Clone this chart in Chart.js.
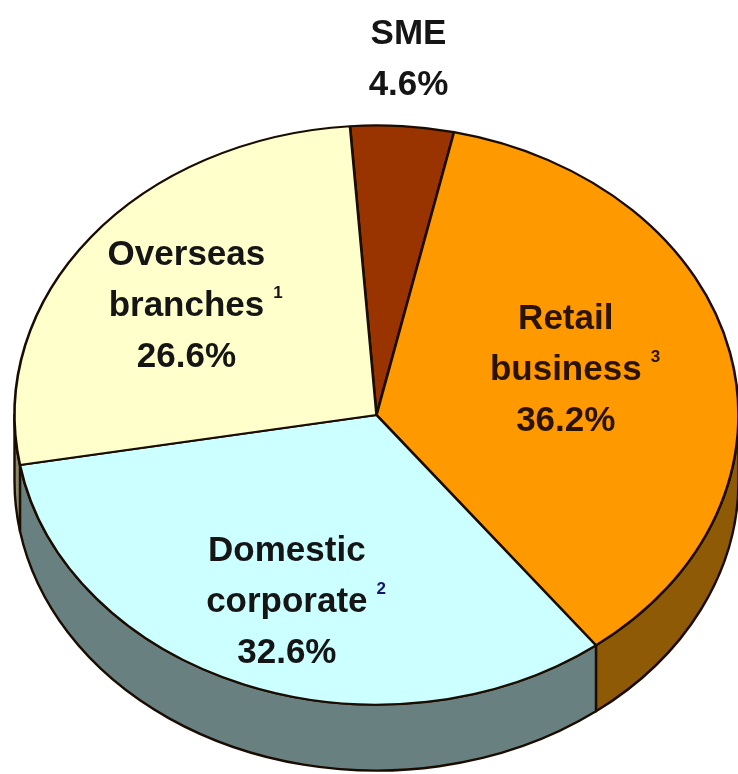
<!DOCTYPE html>
<html>
<head>
<meta charset="utf-8">
<script src="https://cdn.jsdelivr.net/npm/chart.js@4.4.1/dist/chart.umd.min.js"></script>
<style>
  html, body { margin: 0; padding: 0; background: #fff; }
</style>
</head>
<body>
<canvas id="pie" width="738" height="774"></canvas>
<script>
// Segment shares, clockwise from the top
const segments = ['SME', 'Retail business', 'Domestic corporate', 'Overseas branches'];
const footnotes = [null, 3, 2, 1];
const shares = [4.6, 36.2, 32.6, 26.6];

const topColors = ['#993300', '#ff9900', '#ccffff', '#ffffcc'];
const sideColors = ['#5c1f00', '#8f5a06', '#688080', '#8a8a6a'];
const textColors = ['#151515', '#2a1400', '#151515', '#151515'];
const noteColors = ['#151515', '#2a1400', '#14146e', '#151515'];
// label anchor: fraction of the radius, plus a small turn (deg) off the slice middle
const labelRadius = [1.243, 0.55, 0.68, 0.655];
const labelTurn = [0, -5.6, 0, -1.2];

const TILT = 0.8;     // vertical squash of the pie face
const DEPTH = 66;     // rim thickness
const EDGE = '#1a0c00';
const FONT = 'bold 35px "Liberation Sans", Arial, sans-serif';
const NOTE_FONT = 'bold 17px "Liberation Sans", Arial, sans-serif';
const LINE = 51;

const arcProps = (arc) => arc.getProps(['x', 'y', 'startAngle', 'endAngle', 'outerRadius'], true);

const pie3d = {
	id: 'pie3d',
	beforeDatasetsDraw( chart ) {
		const ctx = chart.ctx;
		const arcs = chart.getDatasetMeta( 0 ).data;

		// rim: only the front half (canvas angles 0..PI) is visible
		ctx.save();
		ctx.lineWidth = 2.4;
		ctx.strokeStyle = EDGE;
		ctx.lineJoin = 'round';
		arcs.forEach( ( arc, i ) => {
			const { x, y, startAngle, endAngle, outerRadius } = arcProps( arc );
			const ry = outerRadius * TILT;
			for ( let k = -1; k <= 1; k++ ) {
				const lo = Math.max( startAngle, 2 * Math.PI * k );
				const hi = Math.min( endAngle, 2 * Math.PI * k + Math.PI );
				if ( hi <= lo ) continue;
				ctx.beginPath();
				ctx.ellipse( x, y, outerRadius, ry, 0, lo, hi );
				ctx.ellipse( x, y + DEPTH, outerRadius, ry, 0, hi, lo, true );
				ctx.closePath();
				ctx.fillStyle = sideColors[ i ];
				ctx.fill();
				ctx.stroke();
			}
		} );
		ctx.restore();

		// squash the face drawn by the pie controller
		const cy = arcs[ 0 ].y;
		ctx.save();
		ctx.translate( 0, cy );
		ctx.scale( 1, TILT );
		ctx.translate( 0, -cy );
	},
	afterDatasetsDraw( chart ) {
		const ctx = chart.ctx;
		ctx.restore();

		const arcs = chart.getDatasetMeta( 0 ).data;
		ctx.save();
		ctx.textBaseline = 'alphabetic';
		arcs.forEach( ( arc, i ) => {
			const { x, y, startAngle, endAngle, outerRadius } = arcProps( arc );
			const mid = ( startAngle + endAngle ) / 2 + labelTurn[ i ] * Math.PI / 180;
			const r = outerRadius * labelRadius[ i ];
			const lx = x + r * Math.cos( mid );
			const ly = y + r * Math.sin( mid ) * TILT;
			const lines = segments[ i ].split( ' ' ).concat( shares[ i ].toFixed( 1 ) + '%' );
			const first = ly - ( lines.length - 1 ) * LINE / 2 + 14;
			lines.forEach( ( t, j ) => {
				const by = first + j * LINE;
				ctx.font = FONT;
				ctx.textAlign = 'center';
				ctx.fillStyle = textColors[ i ];
				ctx.fillText( t, lx, by );
				if ( footnotes[ i ] && j === lines.length - 2 ) {
					const w = ctx.measureText( t ).width;
					ctx.font = NOTE_FONT;
					ctx.textAlign = 'left';
					ctx.fillStyle = noteColors[ i ];
					ctx.fillText( String( footnotes[ i ] ), lx + w / 2 + 9, by - 18 );
				}
			} );
		} );
		ctx.restore();
	},
};

new Chart( document.getElementById( 'pie' ), {
	type: 'pie',
	data: {
		labels: segments,
		datasets: [ {
			data: shares,
			backgroundColor: topColors,
			borderColor: EDGE,
			borderWidth: 2.6,
			clip: false,
		} ],
	},
	options: {
		responsive: false,
		animation: false,
		events: [],
		rotation: -4.2,
		radius: 362,
		layout: { padding: { left: 15, right: 0, top: 56, bottom: 0 } },
		plugins: {
			legend: { display: false },
			tooltip: { enabled: false },
		},
	},
	plugins: [ pie3d ],
} );
</script>
</body>
</html>
